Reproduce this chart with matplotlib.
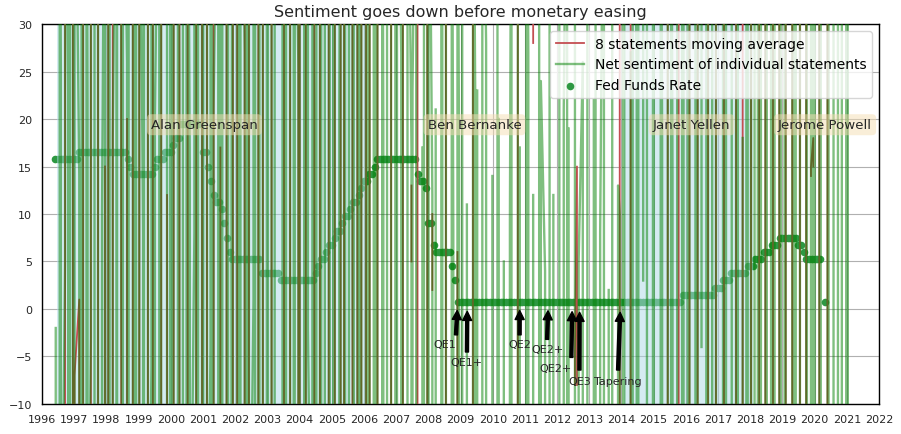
import numpy as np
import pandas as pd
import matplotlib
matplotlib.use("Agg")
import matplotlib.pyplot as plt
import matplotlib.dates as mdates

# ---------------- data ----------------
# Statements: one slot per month (Jun 1996 .. Jan 2021); day of month of the statement
statement_day = [
    5, 20, 2, 19, 24, 13, 17,
    4, 27, 25, 11, 20, 1, 9, 19, 28, 3, 12, 16,
    22, 6, 14, 26, 2, 18, 7, 23, 10, 28, 15, 4,
    9, 21, 3, 17, 27, 12, 5, 24, 14, 1, 20, 26,
    13, 2, 22, 8, 18, 28, 11, 4, 25, 16, 6, 21,
    3, 15, 27, 10, 1, 23, 17, 8, 26, 12, 20, 5,
    24, 9, 2, 19, 13, 6, 28, 15, 21, 3, 11, 26,
    7, 18, 25, 14, 4, 22, 9, 1, 16, 27, 8, 19,
    2, 23, 12, 5, 26, 17, 10, 20, 3, 14, 28, 9,
    18, 4, 27, 11, 21, 1, 15, 24, 7, 19, 12, 2,
    25, 13, 6, 22, 16, 3, 27, 9, 20, 14, 5, 23,
    11, 28, 18, 2, 10, 24, 6, 17, 1, 26, 13, 21,
    4, 16, 25, 12, 28, 8, 19, 3, 23, 11, 27, 15,
    20, 6, 14, 1, 22, 17, 9, 26, 5, 18, 12, 28,
    3, 24, 10, 19, 7, 27, 15, 2, 21, 13, 4, 25,
    16, 9, 28, 5, 23, 12, 1, 18, 26, 8, 20, 14,
    27, 3, 17, 24, 11, 6, 22, 14, 2, 19, 28, 10,
    6, 21, 13, 28, 4, 16, 25, 9, 18, 1, 23, 12,
    19, 2, 26, 15, 8, 23, 11, 27, 4, 17, 9, 24,
    1, 14, 22, 7, 28, 10, 18, 3, 25, 12, 20, 6,
    23, 11, 4, 19, 14, 27, 2, 21, 9, 26, 16, 8,
    15, 26, 9, 1, 20, 5, 24, 13, 28, 7, 18, 3,
    10, 19, 28, 12, 2, 22, 8, 25, 16, 4, 27, 13,
    26, 7, 15, 23, 10, 1, 19, 12, 28, 6, 21, 17,
    2, 24, 11, 18, 27, 8, 14, 3, 22, 16, 5, 25,
    12,
]
# Net sentiment of statements: upper / lower extent per slot; None = no statement
green_top = [
    -2, 60, 25, 60, 23, 60, 60,
    60, 14, 60, 60, 60, 22, 60, 60, 60, None, 10, 60,
    60, 60, 18, 60, 60, 60, 60, 26, 60, 60, 60, 60,
    60, 8, 60, 60, 60, 60, 20, 60, 60, None, 60, 60,
    60, 60, 60, 24, 60, 60, 60, 15, 60, 60, 60, 60,
    60, 60, 60, 60, 21, 60, 60, 60, 60, 60, 12, 60,
    60, 60, 60, 27, 60, 60, 60, 60, 17, 60, 60, 60,
    60, 60, 60, None, None, 60, 60, 60, 60, 60, 60, 25,
    60, 60, 60, 60, 60, 13, 60, 60, 60, 60, 60, 60,
    60, 60, 22, 60, 60, 60, 60, 60, 60, 60, 60, 60,
    60, 60, 60, 60, 26, 60, 60, 19, 60, None, 60, 60,
    60, 27, 60, None, 60, 17, 23, 60, None, 17, 60, 60,
    60, 12, 21, None, 60, 29, 60, None, 60, 8, 60, 16,
    60, None, 11, None, 60, 22, 23, None, 60, 28, None, 14,
    None, 60, 20, None, 5, None, 9, 60, None, 60, 17, None,
    60, 27, None, 12, None, 60, 24, 4, None, 60, 12, None,
    60, None, 21, 60, 19, None, 60, None, 5, 26, None, 60,
    None, 22, 60, None, 8, 60, None, 2, 60, None, 13, 10,
    60, 60, None, 27, 60, 25, 60, None, 60, 60, None, 60,
    60, None, 60, 18, None, 60, 60, 14, 60, None, 60, 60,
    60, 60, None, 60, 24, 60, None, 60, 60, 60, None, 60,
    None, 60, 60, 60, None, 60, 20, 60, None, 18, 60, 60,
    60, 60, 60, 22, 60, 60, 60, 60, 60, 60, 60, 60,
    60, 60, None, 60, 60, 60, 60, None, 60, 60, 60, 60,
    60, 60, 60, None, 60, 60, None, 60, 60, None, 60, 60,
    60,
]
green_bottom = [
    -40, -40, -40, 5, -40, -40, -40,
    -40, -40, -40, -40, -40, -40, -3, -40, -40, -40, -40, -40,
    -40, -40, -40, -40, -40, 2, -40, -40, -40, -40, -40, -40,
    -40, -40, -40, -40, -6, -40, -40, -40, -40, -40, -40, -40,
    -40, -40, -40, -40, -40, -40, -40, -40, 8, -40, -40, -40,
    -40, -40, -4, -40, -40, -40, -40, -40, -40, -40, -40, -40,
    -40, -40, -40, -40, -40, -40, 1, -40, -40, -40, -40, -40,
    -40, -40, -40, -40, -40, -40, -40, -40, -40, -40, -7, -40,
    -40, -40, -40, -2, -40, -40, -40, -40, -40, -40, -40, -40,
    -40, -40, -40, -40, -40, -40, -40, 6, -40, -40, -40, -40,
    -40, -40, -40, -40, -40, -40, -40, -40, -40, -40, -40, -40,
    -40, -40, -40, -40, -40, -40, -40, -40, -5, -40, -40, -40,
    -40, -40, -40, -40, -40, -40, -40, -40, -40, -40, -40, -40,
    -40, -40, -40, -40, -40, -40, -40, -40, -40, -40, -40, -40,
    -40, -40, -40, -40, -40, -40, -40, -40, -40, -40, -40, -40,
    -40, -40, -40, -40, -40, -40, -40, -40, -40, -40, -40, -40,
    -40, -40, -40, -40, -40, -40, -40, -40, -40, -40, -40, -40,
    -40, -40, -40, -40, -40, -40, -40, -40, -40, -40, -40, -40,
    -40, -40, -40, -40, -40, -40, -40, -40, 3, -40, -40, -40,
    -40, -40, -40, -40, -40, -40, -40, -40, -40, -40, -40, -40,
    -40, -40, -40, -40, -40, -4, -40, -40, -40, -40, -40, -40,
    -40, -40, -40, -40, -40, -40, -40, -40, -40, -40, -40, -40,
    -40, -40, -40, -40, -40, -40, -40, -40, -40, -40, -40, -40,
    -40, -40, -40, -40, -40, -40, -40, -40, -40, -40, -40, -40,
    -40, -40, -40, -40, -40, -40, -40, -40, -40, -40, -40, -40,
    -40,
]
# 8 statements moving average: upper / lower extent per slot; None = no value
avg_top = [
    None, None, None, 50, None, None, 50,
    -7, 1, None, 50, None, None, 50, None, 50, None, None, 15,
    50, None, 50, None, None, 50, None, 20, None, 50, None, None,
    50, None, None, 50, None, 50, None, None, 50, None, 12, None,
    None, 50, None, 50, None, None, 50, None, None, 50, None, 50,
    None, 50, None, None, 50, None, 17, None, 50, None, None, 50,
    50, None, None, 50, None, 50, None, None, 50, None, 50, None,
    None, 50, None, None, None, None, 50, None, 50, None, None, 50,
    50, None, 50, None, None, 50, None, 50, None, None, 50, None,
    None, 50, None, 50, 50, None, None, 50, None, 50, None, 50,
    50, None, 50, None, None, 50, None, None, None, None, 50, None,
    None, None, 50, None, None, 13, None, None, 50, None, None, 50,
    None, 10, None, None, None, None, 50, None, None, None, 6, None,
    None, None, None, None, 50, None, None, None, None, None, None, None,
    None, None, None, None, None, None, None, None, None, 50, None, None,
    None, None, None, 50, None, None, None, None, None, None, None, None,
    None, None, None, None, None, None, -5, 15, None, None, None, None,
    None, None, None, None, None, None, None, None, None, None, None, 50,
    None, None, None, 50, None, None, None, None, None, None, None, None,
    None, None, None, None, None, 50, None, None, None, 50, None, None,
    None, 50, None, None, 50, None, None, None, 50, None, None, 50,
    None, None, 50, None, None, None, 50, None, None, 50, None, None,
    50, None, None, 50, None, 50, None, None, 50, None, 50, None,
    None, 50, None, 50, None, None, 50, None, 50, None, 15, 18,
    None, 50, None, None, 50, None, None, None, None, None, None, None,
    None,
]
avg_bottom = [
    -30, -30, -30, -30, -30, -30, -30,
    -30, -30, -30, -30, -30, -30, -30, -30, -30, -30, -30, -30,
    -30, -30, -30, -30, -30, -30, -30, -30, -30, -30, -30, -30,
    -30, -30, -30, -30, -30, -30, -30, -30, -30, -30, -30, -30,
    -30, -30, -30, -30, -30, -30, -30, -30, -30, -30, -30, -30,
    -30, -30, -30, -30, -30, -30, -30, -30, -30, -30, -30, -30,
    -30, -30, -30, -30, -30, -30, -30, -30, -30, -30, -30, -30,
    -30, -30, -30, -30, -30, -30, -30, -30, -30, -30, -30, -30,
    -30, -30, -30, -30, -30, -30, -30, -30, -30, -30, -30, -30,
    -30, -30, -30, -30, -30, -30, -30, -30, -30, -30, -30, -30,
    -30, -30, -30, -30, -30, -30, -30, -30, -30, -30, -30, -30,
    -30, -30, -30, -30, -30, 5, -30, -30, -30, -30, -30, -30,
    -30, 2, -30, -30, -30, -30, -30, -30, -30, -30, -30, -30,
    -30, -30, -30, -30, -30, -30, -30, -30, -30, -30, -30, -30,
    -30, -30, -30, -30, -30, -30, -30, -30, -30, -30, -30, -30,
    -30, -30, -30, 28, -30, -30, -30, -30, -30, -30, -30, -30,
    -30, -30, -30, -30, -30, -30, -8, -8, -30, -30, -30, -30,
    -30, -30, -30, -30, -30, -30, -30, -30, -30, -30, -30, -30,
    -30, -30, -30, -30, -30, -30, -30, -30, -30, -30, -30, -30,
    -30, -30, -30, -30, -30, -30, -30, -30, -30, -30, -30, -30,
    -30, -30, -30, -30, -30, -30, -30, -30, -30, -30, -30, -30,
    -30, -30, -30, -30, -30, -30, -30, -30, -30, -30, -30, -30,
    -30, -30, -30, -30, -30, -30, -30, -30, -30, -30, -30, -30,
    -30, -30, -30, -30, -30, -30, -30, -30, -30, -30, 14, 15,
    -30, -30, -30, -30, -30, -30, -30, -30, -30, -30, -30, -30,
    -30,
]
# Fed funds target rate (%), monthly Jun 1996 .. May 2020 (None = no observation)
fed_funds_rate = [
    5.25, 5.25, 5.25, 5.25, 5.25, 5.25, 5.25,
    5.25, 5.25, 5.5, 5.5, 5.5, 5.5, 5.5, 5.5, 5.5, 5.5, 5.5, 5.5,
    5.5, 5.5, 5.5, 5.5, 5.5, 5.5, 5.5, 5.5, 5.25, 5.0, 4.75, 4.75,
    4.75, 4.75, 4.75, 4.75, 4.75, 4.75, 5.0, 5.25, 5.25, 5.25, 5.5, 5.5,
    5.5, 5.75, 6.0, 6.0, 6.5, 6.5, 6.5, 6.5, 6.5, 6.5, 6.5, 6.5,
    5.5, 5.5, 5.0, 4.5, 4.0, 3.75, 3.75, 3.5, 3.0, 2.5, 2.0, 1.75,
    1.75, 1.75, 1.75, 1.75, 1.75, 1.75, 1.75, 1.75, 1.75, 1.75, 1.25, 1.25,
    1.25, 1.25, 1.25, 1.25, 1.25, 1.0, 1.0, 1.0, 1.0, 1.0, 1.0, 1.0,
    1.0, 1.0, 1.0, 1.0, 1.0, 1.0, 1.25, 1.5, 1.75, 1.75, 2.0, 2.25,
    2.25, 2.5, 2.75, 2.75, 3.0, 3.25, 3.25, 3.5, 3.75, 3.75, 4.0, 4.25,
    4.5, 4.5, 4.75, 4.75, 5.0, 5.25, 5.25, 5.25, 5.25, 5.25, 5.25, 5.25,
    5.25, 5.25, 5.25, 5.25, 5.25, 5.25, 5.25, 5.25, 4.75, 4.5, 4.5, 4.25,
    3.0, 3.0, 2.25, 2.0, 2.0, 2.0, 2.0, 2.0, 2.0, 1.5, 1.0, 0.25,
    0.25, 0.25, 0.25, 0.25, 0.25, 0.25, 0.25, 0.25, 0.25, 0.25, 0.25, 0.25,
    0.25, 0.25, 0.25, 0.25, 0.25, 0.25, 0.25, 0.25, 0.25, 0.25, 0.25, 0.25,
    0.25, 0.25, 0.25, 0.25, 0.25, 0.25, 0.25, 0.25, 0.25, 0.25, 0.25, 0.25,
    0.25, 0.25, 0.25, 0.25, 0.25, 0.25, 0.25, 0.25, 0.25, 0.25, 0.25, 0.25,
    0.25, 0.25, 0.25, 0.25, 0.25, 0.25, 0.25, 0.25, 0.25, 0.25, 0.25, 0.25,
    0.25, 0.25, 0.25, 0.25, 0.25, 0.25, 0.25, 0.25, 0.25, 0.25, 0.25, 0.25,
    0.25, 0.25, 0.25, 0.25, 0.25, 0.25, 0.25, 0.25, 0.25, 0.25, 0.25, 0.5,
    0.5, 0.5, 0.5, 0.5, 0.5, 0.5, 0.5, 0.5, 0.5, 0.5, 0.5, 0.75,
    0.75, 0.75, 1.0, 1.0, 1.0, 1.25, 1.25, 1.25, 1.25, 1.25, 1.25, 1.5,
    1.5, 1.5, 1.75, 1.75, 1.75, 2.0, 2.0, 2.0, 2.25, 2.25, 2.25, 2.5,
    2.5, 2.5, 2.5, 2.5, 2.5, 2.5, 2.25, 2.25, 2.0, 1.75, 1.75, 1.75,
    1.75, 1.75, 1.75, None, 0.25,
]
RATE_SCALE = 3  # rate drawn x3 to share the sentiment axis

chairs = ["Alan Greenspan", "Ben Bernanke", "Janet Yellen", "Jerome Powell"]
chair_label_dates = ["1999-05-22", "2007-12-24", "2014-12-24", "2018-11-13"]
shaded_terms = [("1996-06-20", "2006-01-31"), ("2014-02-03", "2018-02-03")]

qe_labels = ["QE1", "QE1+", "QE2", "QE2+", "QE2+", "QE3", "Tapering"]
qe_dates = ["2008-11-25", "2009-03-18", "2010-11-03", "2011-09-21",
            "2012-06-20", "2012-09-13", "2013-12-18"]
qe_text_dates = ["2008-02-24", "2008-09-13", "2010-06-25", "2011-03-10",
                 "2011-06-10", "2012-05-05", "2013-02-24"]
qe_text_y = [-3.7, -5.6, -3.7, -4.2, -6.2, -7.6, -7.6]

n = len(statement_day)
assert len(green_top) == n and len(green_bottom) == n, (len(green_top), len(green_bottom), n)
assert len(avg_top) == n and len(avg_bottom) == n, (len(avg_top), len(avg_bottom), n)


# ---------------- helpers ----------------
def to_arr(v):
    return np.array(v, dtype=float)


def zigzag(dates, top, bottom):
    xs, ys = [], []
    for i, (d, t, b) in enumerate(zip(dates, top, bottom)):
        if np.isnan(t) or np.isnan(b):
            xs.append(d)
            ys.append(np.nan)
            continue
        pair = (t, b) if i % 2 == 0 else (b, t)
        xs.extend([d, d])
        ys.extend(pair)
    return xs, ys


month_starts = pd.date_range("1996-06-01", periods=n, freq="MS")
stmt_dates = [m + pd.Timedelta(days=int(d) - 1) for m, d in zip(month_starts, statement_day)]
rate_months = pd.date_range("1996-06-01", periods=len(fed_funds_rate), freq="MS")

gx, gy = zigzag(stmt_dates, to_arr(green_top), to_arr(green_bottom))
rx, ry = zigzag(stmt_dates, to_arr(avg_top), to_arr(avg_bottom))

# ---------------- figure ----------------
plt.rcParams["font.family"] = "DejaVu Sans"
fig = plt.figure(figsize=(9.01, 4.35), dpi=100)
ax = fig.add_subplot(111)
fig.subplots_adjust(left=0.0466, right=0.9756, bottom=0.069, top=0.9425)

sc = ax.scatter(rate_months, to_arr(fed_funds_rate) * RATE_SCALE, s=30,
                color="#2e9842", linewidths=0, zorder=1, label="Fed Funds Rate")
for s, e in shaded_terms:
    ax.axvspan(pd.Timestamp(s), pd.Timestamp(e), color="lightblue", alpha=0.5,
               lw=0, zorder=1.5)

lr, = ax.plot(rx, ry, color="#c44e52", lw=1.3, zorder=3,
              label="8 statements moving average")
lg, = ax.plot(gx, gy, color="green", alpha=0.5, lw=1.7, zorder=4,
              label="Net sentiment of individual statements")

for name, d in zip(chairs, chair_label_dates):
    ax.text(pd.Timestamp(d), 19.4, name, fontsize=9.6, color="#262626",
            ha="left", va="center", zorder=6,
            bbox=dict(boxstyle="round,pad=0.3", facecolor="wheat", alpha=0.5,
                      edgecolor="none"))

for lab, d, td, ty in zip(qe_labels, qe_dates, qe_text_dates, qe_text_y):
    ax.annotate(lab, xy=(pd.Timestamp(d), 0), xytext=(pd.Timestamp(td), ty),
                fontsize=8, color="#262626", va="center", ha="left", zorder=7,
                arrowprops=dict(facecolor="black", edgecolor="black", width=2.2,
                                headwidth=6.5, headlength=6.5, shrink=0.05))

ax.set_xlim(pd.Timestamp("1996-01-01"), pd.Timestamp("2022-01-01"))
ax.set_ylim(-10, 30)
ax.set_yticks(np.arange(-10, 31, 5))
ax.xaxis.set_major_locator(mdates.YearLocator())
ax.xaxis.set_major_formatter(mdates.DateFormatter("%Y"))
ax.grid(True, color="#b0b0b0", lw=0.8, zorder=0)
ax.set_axisbelow(True)
ax.tick_params(axis="both", labelsize=8, labelcolor="#262626",
               bottom=False, left=False)
for sp in ax.spines.values():
    sp.set_color("black")
    sp.set_linewidth(1.0)

ax.set_title("Sentiment goes down before monetary easing", fontsize=11.5,
             color="#262626")
leg = ax.legend(handles=[lr, lg, sc], loc="upper right", fontsize=10,
                framealpha=0.8, edgecolor="#cccccc")
leg.set_zorder(10)

fig.savefig("out.png", dpi=100)
